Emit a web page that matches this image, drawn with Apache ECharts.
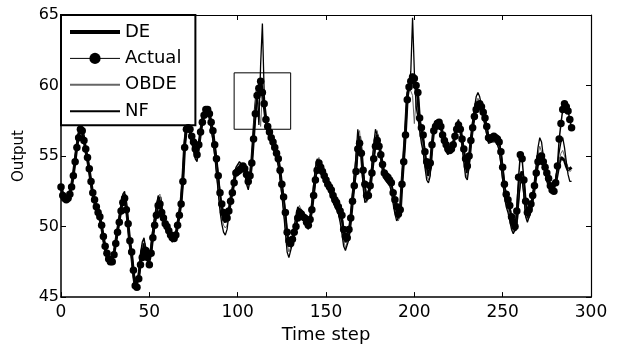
<!DOCTYPE html>
<html>
<head>
<meta charset="utf-8">
<script src="https://cdn.jsdelivr.net/npm/echarts@6/dist/echarts.min.js"></script>
<style>html,body{margin:0;padding:0;background:#fff;}#c{width:626px;height:349px;}</style>
</head>
<body>
<div id="c"></div>
<script>
const xTicks = [0, 50, 100, 150, 200, 250, 300];
const yTicks = [45, 50, 55, 60, 65];
const boxX = [98, 130];
const boxY = [56.9, 60.9];

const actual = [
52.8,52.2,52.0,51.9,52.0,52.3,52.8,53.6,54.6,55.6,
56.3,56.9,56.8,56.1,55.5,54.9,54.1,53.2,52.4,51.9,
51.4,51.0,50.7,50.1,49.3,48.6,48.1,47.7,47.5,47.5,
48.0,48.8,49.6,50.3,51.1,51.7,52.0,51.2,50.2,49.0,
48.2,46.9,45.8,45.7,46.3,47.3,47.8,48.2,48.3,47.8,
47.3,48.1,49.2,50.1,50.8,51.5,51.6,51.0,50.6,50.2,
50.0,49.7,49.4,49.2,49.15,49.4,50.1,50.8,51.6,53.2,
55.6,56.9,57.0,56.9,56.4,56.0,55.5,55.1,55.8,56.7,
57.4,57.9,58.3,58.3,58.0,57.4,56.8,55.8,54.8,53.6,
52.4,51.6,51.0,50.6,50.6,51.1,51.8,52.4,53.1,53.8,
53.9,54.0,54.1,54.3,54.1,53.7,53.2,53.6,54.5,56.2,
58.0,59.3,59.8,60.3,59.5,58.7,57.6,57.1,56.7,56.3,
56.0,55.6,55.2,54.8,54.0,53.0,52.1,51.0,49.6,49.0,
48.8,49.1,49.6,50.0,50.6,51.0,50.9,50.7,50.6,50.3,
50.1,50.5,51.2,52.2,53.3,54.0,54.5,54.2,53.9,53.6,
53.3,53.0,52.8,52.6,52.2,51.9,51.7,51.4,51.1,50.8,
49.8,49.3,49.2,49.8,50.6,51.8,52.9,53.9,55.5,55.9,
55.2,54.0,53.0,52.2,52.2,52.9,53.8,54.8,55.7,56.1,
55.7,55.1,54.4,53.8,53.6,53.5,53.3,53.1,52.4,51.9,
51.4,50.9,51.2,53.0,54.6,56.5,59.0,59.9,60.3,60.6,
60.5,60.0,59.5,57.7,57.0,56.5,55.3,54.6,54.3,54.5,
55.8,56.8,57.1,57.3,57.4,57.1,56.5,56.1,55.8,55.5,
55.4,55.5,55.8,56.4,56.9,57.2,56.9,56.2,55.5,54.8,
54.3,55.0,56.1,57.0,57.8,58.3,58.6,58.7,58.5,58.1,
57.7,57.1,56.3,56.2,56.3,56.4,56.3,56.2,56.0,55.3,
54.2,53.0,52.3,51.9,51.5,50.7,50.3,50.0,51.1,53.5,
55.1,54.8,53.3,51.8,51.0,51.2,51.6,52.2,52.9,53.8,
54.6,54.9,55.0,54.6,54.2,53.8,53.4,52.9,52.6,52.5,
53.1,54.3,56.2,57.3,58.3,58.7,58.5,58.2,57.6,57.0
];

const de = [
52.9,52.3,52.0,51.9,52.1,52.4,52.9,53.7,54.7,55.7,
56.5,57.1,56.9,56.2,55.4,54.8,54.0,53.1,52.3,51.8,
51.3,50.9,50.6,50.0,49.2,48.5,48.0,47.6,47.4,47.5,
48.1,48.9,49.7,50.5,51.3,51.9,52.3,51.4,50.1,48.8,
48.0,46.7,45.7,45.7,46.4,47.6,48.4,48.8,48.3,47.6,
47.5,48.3,49.4,50.3,51.0,51.8,52.1,51.2,50.6,50.1,
49.8,49.6,49.3,49.1,49.1,49.4,50.1,50.9,51.8,53.4,
55.8,57.0,57.1,56.8,56.3,55.8,55.2,54.9,55.7,56.7,
57.5,58.0,58.4,58.4,58.0,57.3,56.6,55.6,54.5,53.2,
52.0,51.1,50.6,50.3,50.4,51.0,51.9,52.5,53.2,53.9,
54.0,54.2,54.4,54.5,54.2,53.5,53.0,53.5,54.6,56.4,
58.3,59.6,59.9,60.5,59.4,58.6,57.5,57.0,56.6,56.2,
55.9,55.5,55.1,54.7,53.9,52.8,51.8,50.6,49.2,48.6,
48.5,49.0,49.7,50.2,50.9,51.3,51.0,50.7,50.5,50.2,
50.0,50.5,51.3,52.4,53.6,54.3,54.7,54.3,53.9,53.5,
53.2,52.9,52.7,52.4,52.0,51.7,51.5,51.2,50.8,50.4,
49.4,48.9,48.8,49.5,50.5,51.9,53.1,54.2,56.0,56.4,
55.3,53.6,52.5,51.9,52.0,52.8,53.9,55.0,56.1,56.5,
55.9,55.1,54.3,53.7,53.5,53.4,53.2,52.9,52.2,51.6,
51.0,50.6,51.0,53.1,54.9,56.8,59.2,60.0,60.4,60.8,
60.4,59.8,59.2,57.4,56.6,56.0,54.9,54.0,53.6,54.1,
55.7,56.9,57.3,57.4,57.5,57.2,56.5,56.0,55.6,55.3,
55.2,55.4,55.8,56.5,57.1,57.4,57.0,56.1,55.2,54.3,
53.8,54.7,56.0,57.1,57.9,58.5,58.8,58.9,58.6,58.0,
57.5,56.9,56.1,56.0,56.2,56.3,56.2,56.0,55.8,55.0,
53.9,52.7,52.0,51.6,51.1,50.3,49.9,49.7,50.6,52.5,
53.6,53.9,53.0,51.4,50.6,50.8,51.3,52.0,52.8,53.8,
54.6,55.2,55.3,54.8,54.2,53.6,53.1,52.7,52.5,52.6,
53.1,53.8,54.5,54.9,55.0,54.7,54.3,54.0,53.9,54.2
];

const obde = [
52.7,52.1,51.9,51.8,52.0,52.4,53.0,53.8,54.8,55.9,
56.6,57.2,56.8,56.0,55.3,54.7,53.9,53.0,52.2,51.7,
51.2,50.8,50.5,49.9,49.0,48.3,47.8,47.4,47.3,47.5,
48.2,49.0,49.8,50.6,51.4,52.1,52.4,51.3,49.9,48.6,
47.8,46.5,45.6,45.8,46.6,47.9,48.7,49.1,48.4,47.5,
47.6,48.5,49.6,50.5,51.3,52.1,52.3,51.3,50.5,50.0,
49.7,49.5,49.2,49.0,49.0,49.4,50.2,51.0,52.0,53.7,
56.0,57.2,57.0,56.6,56.1,55.6,55.0,54.7,55.6,56.8,
57.7,58.2,58.5,58.3,57.8,57.1,56.3,55.2,54.1,52.8,
51.6,50.7,50.1,49.9,50.1,50.9,51.9,52.6,53.4,54.1,
54.2,54.5,54.6,54.4,54.0,53.2,52.7,53.4,54.7,56.6,
58.6,59.8,59.9,57.1,59.6,59.0,57.4,56.8,56.4,56.0,
55.7,55.3,54.9,54.5,53.6,52.5,51.4,50.1,48.8,48.2,
48.2,48.9,49.8,50.5,51.2,51.5,51.0,50.6,50.4,50.1,
49.9,50.5,51.5,52.7,53.9,54.6,54.9,54.4,53.9,53.4,
53.1,52.8,52.5,52.2,51.8,51.5,51.3,51.0,50.5,49.9,
49.0,48.5,48.5,49.3,50.6,52.1,53.4,54.6,56.5,56.8,
55.2,53.2,52.0,51.7,52.0,52.9,54.1,55.4,56.5,56.8,
56.0,55.0,54.1,53.5,53.3,53.2,53.0,52.7,51.9,51.2,
50.6,50.4,50.9,53.2,55.2,57.1,59.3,59.9,60.0,59.3,
57.3,59.0,57.6,57.0,56.2,55.6,54.5,53.6,53.3,53.8,
55.6,57.0,57.4,57.5,57.5,57.2,56.4,55.8,55.4,55.2,
55.1,55.4,55.9,56.6,57.2,57.5,57.0,56.0,54.9,53.8,
53.4,54.4,55.9,57.2,58.1,58.8,59.1,59.0,58.6,57.9,
57.3,56.7,56.0,55.9,56.1,56.2,56.1,55.9,55.6,54.7,
53.6,52.4,51.7,51.3,50.8,50.0,49.6,49.5,50.3,52.1,
53.3,53.6,52.6,51.0,50.4,50.7,51.2,52.0,52.9,54.1,
55.1,55.7,55.6,54.9,54.1,53.4,52.9,52.6,52.4,52.6,
53.2,54.0,54.7,55.2,55.4,55.0,54.5,54.1,53.9,54.0
];

const nf = [
52.8,52.2,51.9,51.9,52.1,52.5,53.0,53.9,55.0,56.0,
56.7,57.3,56.9,56.0,55.2,54.6,53.8,52.9,52.1,51.6,
51.1,50.7,50.4,49.8,48.9,48.2,47.7,47.3,47.2,47.4,
48.2,49.1,49.9,50.7,51.6,52.3,52.5,51.2,49.8,48.5,
47.7,46.4,45.5,45.8,46.8,48.1,48.9,49.2,48.4,47.4,
47.7,48.7,49.8,50.7,51.5,52.2,52.3,51.3,50.4,49.9,
49.6,49.4,49.1,48.9,48.9,49.4,50.3,51.2,52.2,54.0,
56.3,57.3,56.9,56.5,55.9,55.4,54.8,54.6,55.6,56.9,
57.8,58.3,58.5,58.2,57.6,56.9,56.1,55.0,53.8,52.4,
51.1,50.2,49.6,49.4,49.8,50.8,51.9,52.7,53.5,54.2,
54.3,54.6,54.7,54.3,53.8,53.0,52.6,53.3,54.8,56.9,
57.5,59.5,57.2,61.5,64.4,59.5,57.2,56.7,56.3,55.9,
55.6,55.2,54.8,54.3,53.4,52.2,51.0,49.6,48.2,47.8,
47.7,48.8,50.0,50.8,51.4,51.5,51.0,50.5,50.3,50.0,
49.8,50.6,51.7,53.0,54.2,54.8,54.9,54.4,53.8,53.3,
53.0,52.7,52.4,52.1,51.7,51.4,51.2,50.9,50.3,49.5,
48.6,48.3,48.3,49.1,50.7,52.3,53.7,55.0,56.9,56.9,
55.0,52.8,51.7,51.6,52.0,53.0,54.4,55.8,56.9,56.9,
56.0,54.9,53.9,53.4,53.2,53.1,52.9,52.5,51.6,50.9,
50.4,50.3,50.9,53.4,55.5,57.4,59.5,59.8,61.0,64.8,
61.0,58.5,57.8,56.8,55.9,55.3,54.2,53.3,53.1,53.6,
55.7,57.1,57.5,57.6,57.5,57.1,56.3,55.7,55.3,55.1,
55.1,55.5,56.0,56.7,57.3,57.6,57.0,55.8,54.6,53.5,
53.3,54.3,56.0,57.4,58.4,59.2,59.5,59.2,58.6,57.8,
57.1,56.5,55.9,55.8,56.0,56.1,56.0,55.8,55.4,54.4,
53.3,52.1,51.4,51.0,50.4,49.8,49.5,49.4,50.0,51.8,
53.0,53.3,52.2,50.7,50.3,50.7,51.2,52.1,53.1,54.4,
55.6,56.3,56.0,55.0,54.0,53.2,52.8,52.6,52.4,52.7,
53.4,54.4,55.3,56.0,56.3,55.6,54.6,53.7,53.2,53.2
];

const pairs = arr => arr.map((v, i) => [i, v]);
const FONT = 'DejaVu Sans';
const hidden = {opacity: 0, color: 'rgba(0,0,0,0)', borderWidth: 0};

const chart = echarts.init(document.getElementById('c'), null, {renderer: 'canvas'});
chart.setOption({
  animation: false,
  backgroundColor: '#fff',
  grid: {left: 61, top: 15, right: 35, bottom: 50},
  legend: {
    data: [
      {name: 'DE', itemStyle: hidden, lineStyle: {width: 4}},
      {name: 'Actual', lineStyle: {width: 1}},
      {name: 'OBDE', itemStyle: hidden},
      {name: 'NF', itemStyle: hidden}
    ],
    orient: 'vertical', left: 61, top: 15,
    padding: [8, 14, 5, 7],
    itemWidth: 50, itemHeight: 14, itemGap: 8.4,
    backgroundColor: '#fff', borderColor: '#000', borderWidth: 2,
    textStyle: {fontFamily: FONT, fontSize: 18, lineHeight: 16, color: '#000'}
  },
  xAxis: [{
    type: 'value', min: xTicks[0], max: xTicks[xTicks.length - 1], interval: 50,
    name: 'Time step', nameLocation: 'middle', nameGap: 19,
    nameTextStyle: {fontFamily: FONT, fontSize: 18, color: '#000'},
    axisLine: {lineStyle: {color: '#000', width: 1.5}},
    axisTick: {inside: true, length: 5, lineStyle: {color: '#000'}},
    axisLabel: {fontFamily: FONT, fontSize: 17, color: '#000', margin: 7},
    splitLine: {show: false}
  }, {
    type: 'value', position: 'top', min: xTicks[0], max: xTicks[xTicks.length - 1], interval: 50,
    axisLine: {show: true, onZero: false, lineStyle: {color: '#000', width: 1}},
    axisTick: {inside: true, length: 5, lineStyle: {color: '#000'}},
    axisLabel: {show: false}, splitLine: {show: false}
  }],
  yAxis: [{
    type: 'value', min: yTicks[0], max: yTicks[yTicks.length - 1], interval: 5,
    name: 'Output', nameLocation: 'middle', nameGap: 34, nameRotate: 90,
    nameTextStyle: {fontFamily: FONT, fontSize: 15, color: '#000'},
    axisLine: {show: true, lineStyle: {color: '#000', width: 1.5}},
    axisTick: {show: true, inside: true, length: 5, lineStyle: {color: '#000'}},
    axisLabel: {fontFamily: FONT, fontSize: 16, color: '#000', margin: 2},
    splitLine: {show: false}
  }, {
    type: 'value', position: 'right', min: yTicks[0], max: yTicks[yTicks.length - 1], interval: 5,
    axisLine: {show: true, onZero: false, lineStyle: {color: '#000', width: 1.2}},
    axisTick: {show: true, inside: true, length: 5, lineStyle: {color: '#000'}},
    axisLabel: {show: false}, splitLine: {show: false}
  }],
  series: [
    {name: 'DE', type: 'line', data: pairs(de), symbol: 'none', z: 2,
     lineStyle: {color: '#000', width: 3}, itemStyle: {color: '#000'}},
    {name: 'OBDE', type: 'line', data: pairs(obde), symbol: 'none', z: 3,
     lineStyle: {color: '#666', width: 1}, itemStyle: {color: '#666'}},
    {name: 'NF', type: 'line', data: pairs(nf), symbol: 'none', z: 3,
     lineStyle: {color: '#000', width: 1.3}, itemStyle: {color: '#000'}},
    {name: 'Actual', type: 'line', data: pairs(actual), symbol: 'circle', symbolSize: 7.5, z: 5,
     lineStyle: {color: '#000', width: 1.5}, itemStyle: {color: '#000'},
     markArea: {silent: true,
       itemStyle: {color: 'rgba(0,0,0,0)', borderColor: '#000', borderWidth: 1},
       data: [[{coord: [boxX[0], boxY[1]]}, {coord: [boxX[1], boxY[0]]}]]}}
  ]
});
</script>
</body>
</html>
